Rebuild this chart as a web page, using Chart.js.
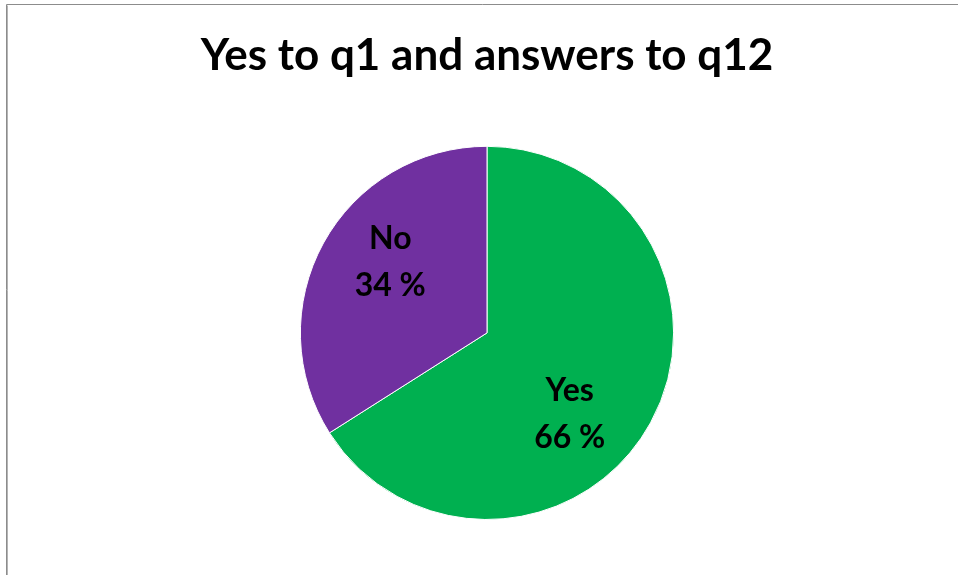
<!DOCTYPE html>
<html>
<head>
<meta charset="utf-8">
<script src="https://cdn.jsdelivr.net/npm/chart.js@4/dist/chart.umd.min.js"></script>
<style>
  html, body { margin: 0; padding: 0; background: #fff; }
  #wrap { width: 958px; height: 575px; }
</style>
</head>
<body>
<div id="wrap"><canvas id="pie" width="958" height="575"></canvas></div>
<script>
const categories = ['Yes', 'No'];
const shares = [66, 34];
const sliceColors = ['#00B050', '#7030A0'];
const titleText = 'Yes to q1 and answers to q12';

const FONT = 'Lato, "Open Sans", sans-serif';

// frame around the chart (only top and left edges are inside the page)
const framePlugin = {
  id: 'frame',
  beforeDraw(chart) {
    const ctx = chart.ctx;
    ctx.save();
    ctx.fillStyle = '#fff';
    ctx.fillRect(0, 0, chart.width, chart.height);
    ctx.strokeStyle = '#8c8c8c';
    ctx.lineWidth = 1;
    ctx.beginPath();
    ctx.moveTo(6.5, chart.height);
    ctx.lineTo(6.5, 4.5);
    ctx.lineTo(chart.width, 4.5);
    ctx.stroke();
    ctx.strokeStyle = '#b4b4b4';
    ctx.beginPath();
    ctx.moveTo(7.5, chart.height);
    ctx.lineTo(7.5, 5.5);
    ctx.stroke();
    ctx.restore();
  }
};

// category name + percent inside each slice
const sliceLabels = {
  id: 'sliceLabels',
  afterDatasetsDraw(chart) {
    const ctx = chart.ctx;
    const meta = chart.getDatasetMeta(0);
    ctx.save();
    ctx.fillStyle = '#000';
    ctx.font = 'bold 32px ' + FONT;
    ctx.textAlign = 'center';
    ctx.textBaseline = 'middle';
    meta.data.forEach((arc, i) => {
      const p = arc.getProps(['x', 'y', 'startAngle', 'endAngle', 'outerRadius'], true);
      const mid = (p.startAngle + p.endAngle) / 2 + 0.2;
      const r = p.outerRadius * 0.63;
      const cx = p.x + Math.cos(mid) * r - 7;
      const cy = p.y + Math.sin(mid) * r + 5;
      ctx.fillText(categories[i], cx, cy - 23);
      ctx.fillText(shares[i] + ' %', cx, cy + 24);
    });
    ctx.restore();
  }
};

new Chart(document.getElementById('pie'), {
  type: 'pie',
  data: {
    labels: categories,
    datasets: [{
      data: shares,
      backgroundColor: sliceColors,
      borderColor: '#fff',
      borderWidth: 1
    }]
  },
  options: {
    responsive: false,
    animation: false,
    layout: { padding: { left: 16, right: 0, top: 0, bottom: 55 } },
    plugins: {
      legend: { display: false },
      tooltip: { enabled: false },
      title: {
        display: true,
        text: titleText,
        color: '#000',
        font: { family: FONT, size: 44, weight: 'bold', lineHeight: 1.2 },
        padding: { top: 29, bottom: 64 }
      }
    }
  },
  plugins: [framePlugin, sliceLabels]
});
</script>
</body>
</html>
